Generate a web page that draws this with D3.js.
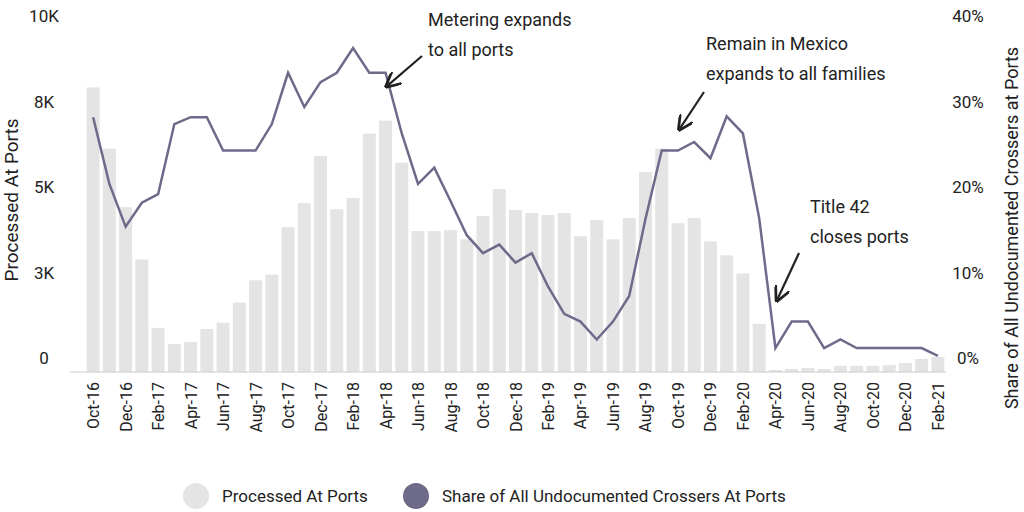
<!DOCTYPE html>
<html><head><meta charset="utf-8">
<script src="https://cdn.jsdelivr.net/npm/d3@7"></script>
<style>body{margin:0;background:#fff}text{font-family:"Roboto",sans-serif;fill:#222}</style>
</head><body><svg id="c" width="1024" height="512"></svg>
<script>
const months = ["Oct-16","Nov-16","Dec-16","Jan-17","Feb-17","Mar-17","Apr-17","May-17","Jun-17","Jul-17","Aug-17","Sep-17","Oct-17","Nov-17","Dec-17","Jan-18","Feb-18","Mar-18","Apr-18","May-18","Jun-18","Jul-18","Aug-18","Sep-18","Oct-18","Nov-18","Dec-18","Jan-19","Feb-19","Mar-19","Apr-19","May-19","Jun-19","Jul-19","Aug-19","Sep-19","Oct-19","Nov-19","Dec-19","Jan-20","Feb-20","Mar-20","Apr-20","May-20","Jun-20","Jul-20","Aug-20","Sep-20","Oct-20","Nov-20","Dec-20","Jan-21","Feb-21"];
const processed = [8320,6530,4820,3290,1290,820,880,1260,1440,2030,2680,2850,4240,4940,6320,4760,5090,6970,7350,6120,4120,4120,4150,3880,4560,5350,4740,4650,4590,4650,3970,4440,3880,4500,5850,6530,4350,4500,3820,3410,2880,1410,60,90,120,90,180,180,180,200,260,380,440];
const share = [29.8,22,17,19.8,20.8,29,29.8,29.8,25.9,25.9,25.9,29,35,31,33.9,35,37.9,35,35,27.9,22,23.9,20,16,13.9,14.9,12.8,13.9,10,6.8,5.9,3.8,5.9,8.9,17.9,25.9,25.9,26.9,25,29.9,27.9,18,2.8,5.9,5.9,2.8,3.8,2.8,2.8,2.8,2.8,2.8,1.9];
const leftTicks = [0,2500,5000,7500,10000];
const leftLabels = ["0","3K","5K","8K","10K"];
const rightTicks = [0,10,20,30,40];
const annotations = [
 {m:"Apr-18", v:33.5, lines:["Metering expands","to all ports"], tx:428, ty:26, sx:422, sy:56},
 {m:"Oct-19", v:28.5, lines:["Remain in Mexico","expands to all families"], tx:706, ty:50, sx:704, sy:92},
 {m:"Apr-20", v:8.5, lines:["Title 42","closes ports"], tx:810, ty:213, sx:799, sy:253}
];
const svg=d3.select("#c");
const x=d3.scaleBand().domain(months).range([85,946]).paddingInner(0.2).paddingOuter(0.1);
const yL=d3.scaleLinear().domain([0,10000]).range([372,30]);
const yR=d3.scaleLinear().domain([0,40]).range([372,30]);
svg.selectAll("rect.b").data(processed).join("rect").attr("x",(d,i)=>x(months[i])).attr("width",x.bandwidth())
 .attr("y",d=>yL(d)).attr("height",d=>yL(0)-yL(d)).attr("fill","#e4e4e4");
svg.append("line").attr("x1",70).attr("x2",946).attr("y1",372).attr("y2",372).attr("stroke","#ccc");
svg.selectAll("text.l").data(leftTicks).join("text").attr("x",44).attr("y",d=>yL(d)-8).attr("text-anchor","middle")
 .attr("font-size",17).text((d,i)=>leftLabels[i]);
svg.selectAll("text.r").data(rightTicks).join("text").attr("x",968).attr("y",d=>yR(d)-8).attr("text-anchor","middle")
 .attr("font-size",17).text(d=>d+"%");
const cx=m=>x(m)+x.bandwidth()/2;
svg.append("path").datum(share).attr("fill","none").attr("stroke","#6e6a8a").attr("stroke-width",2.5)
 .attr("d",d3.line().x((d,i)=>cx(months[i])).y(d=>yR(d)));
months.forEach((m,i)=>{ if(i%2==0) svg.append("text").attr("transform",`translate(${cx(m)+6},382) rotate(-90)`)
 .attr("text-anchor","end").attr("font-size",16).text(m);});
svg.append("text").attr("transform","translate(18,200) rotate(-90)").attr("text-anchor","middle").attr("font-size",19).text("Processed At Ports");
svg.append("text").attr("transform","translate(1018,228) rotate(-90)").attr("text-anchor","middle").attr("font-size",18).text("Share of All Undocumented Crossers at Ports");
svg.append("defs").append("marker").attr("id","ar").attr("viewBox","0 0 10 10").attr("refX",8).attr("refY",5)
 .attr("markerWidth",7).attr("markerHeight",7).attr("orient","auto").append("path").attr("d","M0,0L10,5L0,10").attr("fill","none").attr("stroke","#222").attr("stroke-width",1.8);
annotations.forEach(a=>{
 a.lines.forEach((l,j)=>svg.append("text").attr("x",a.tx).attr("y",a.ty+j*30).attr("font-size",18).text(l));
 svg.append("line").attr("x1",a.sx).attr("y1",a.sy).attr("x2",cx(a.m)+2).attr("y2",yR(a.v)).attr("stroke","#222").attr("stroke-width",2.2).attr("marker-end","url(#ar)");
});
const lg=[{t:"Processed At Ports",c:"#e4e4e4",x:196},{t:"Share of All Undocumented Crossers At Ports",c:"#6e6a8a",x:416}];
lg.forEach(l=>{svg.append("circle").attr("cx",l.x).attr("cy",496).attr("r",13).attr("fill",l.c);
 svg.append("text").attr("x",l.x+26).attr("y",502).attr("font-size",17).text(l.t);});
</script></body></html>
